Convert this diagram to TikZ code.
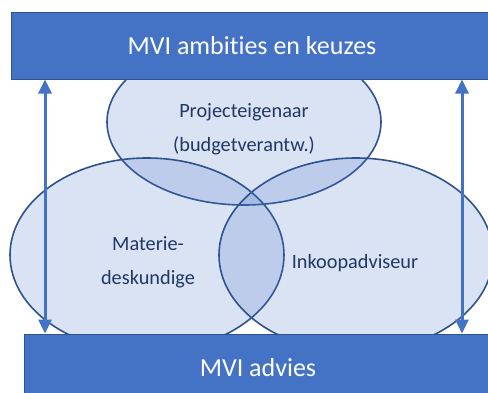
\documentclass[tikz,border=0pt]{standalone}
\usepackage{fontspec}
\setmainfont[Ligatures=NoCommon]{Carlito}
\usetikzlibrary{shapes.geometric,arrows.meta}
\definecolor{mviblauw}{HTML}{4472C4}
\definecolor{mvirand}{HTML}{2F528F}
\definecolor{mvitekst}{HTML}{203864}
\begin{document}
\begin{tikzpicture}
        [x=1pt, y=-1pt,
        balk/.style={rectangle, draw=mvirand, line width=1pt, fill=mviblauw, text=white, font=\fontsize{26}{30}\selectfont, inner sep=0pt},
        rol/.style={ellipse, draw=mvirand, line width=1.6pt, fill=mviblauw, fill opacity=0.2, draw opacity=1, minimum width=274pt, inner sep=0pt},
        label/.style={text=mvitekst, font=\fontsize{20.3}{34}\selectfont, align=center},
        pijl/.style={mviblauw, line width=3pt, {Triangle[length=14pt,width=13pt]}-{Triangle[length=14pt,width=13pt]}}]

        \useasboundingbox (0,0) rectangle (488,392);
        \clip (0,0) rectangle (488,392);

        % roles
        \node[rol, minimum height=166pt] (eigenaar) at (244,122) {};
        \node[rol, minimum height=194pt] (materie) at (147,255) {};
        \node[rol, minimum height=194pt] (inkoop) at (356,255) {};

        % labels for the roles
        \node[label] (eigenaartekst) at (244,129) {Projecteigenaar\\(budgetverantw.)};
        \node[label] (materietekst) at (148,262) {Materie-\\deskundige};
        \node[label] (inkooptekst) at (355,263) {Inkoopadviseur};

        % bars
        \node[balk, minimum width=482pt, minimum height=67pt] (ambitie) at (252,45.5) {MVI ambities en keuzes};
        \node[balk, minimum width=468pt, minimum height=68pt] (advies) at (258,368) {MVI advies};

        % arrows between the bars
        \draw[pijl] (advies.north -| 45,0) -- (ambitie.south -| 45,0);
        \draw[pijl] (advies.north -| 462,0) -- (ambitie.south -| 462,0);

    \end{tikzpicture}
\end{document}
